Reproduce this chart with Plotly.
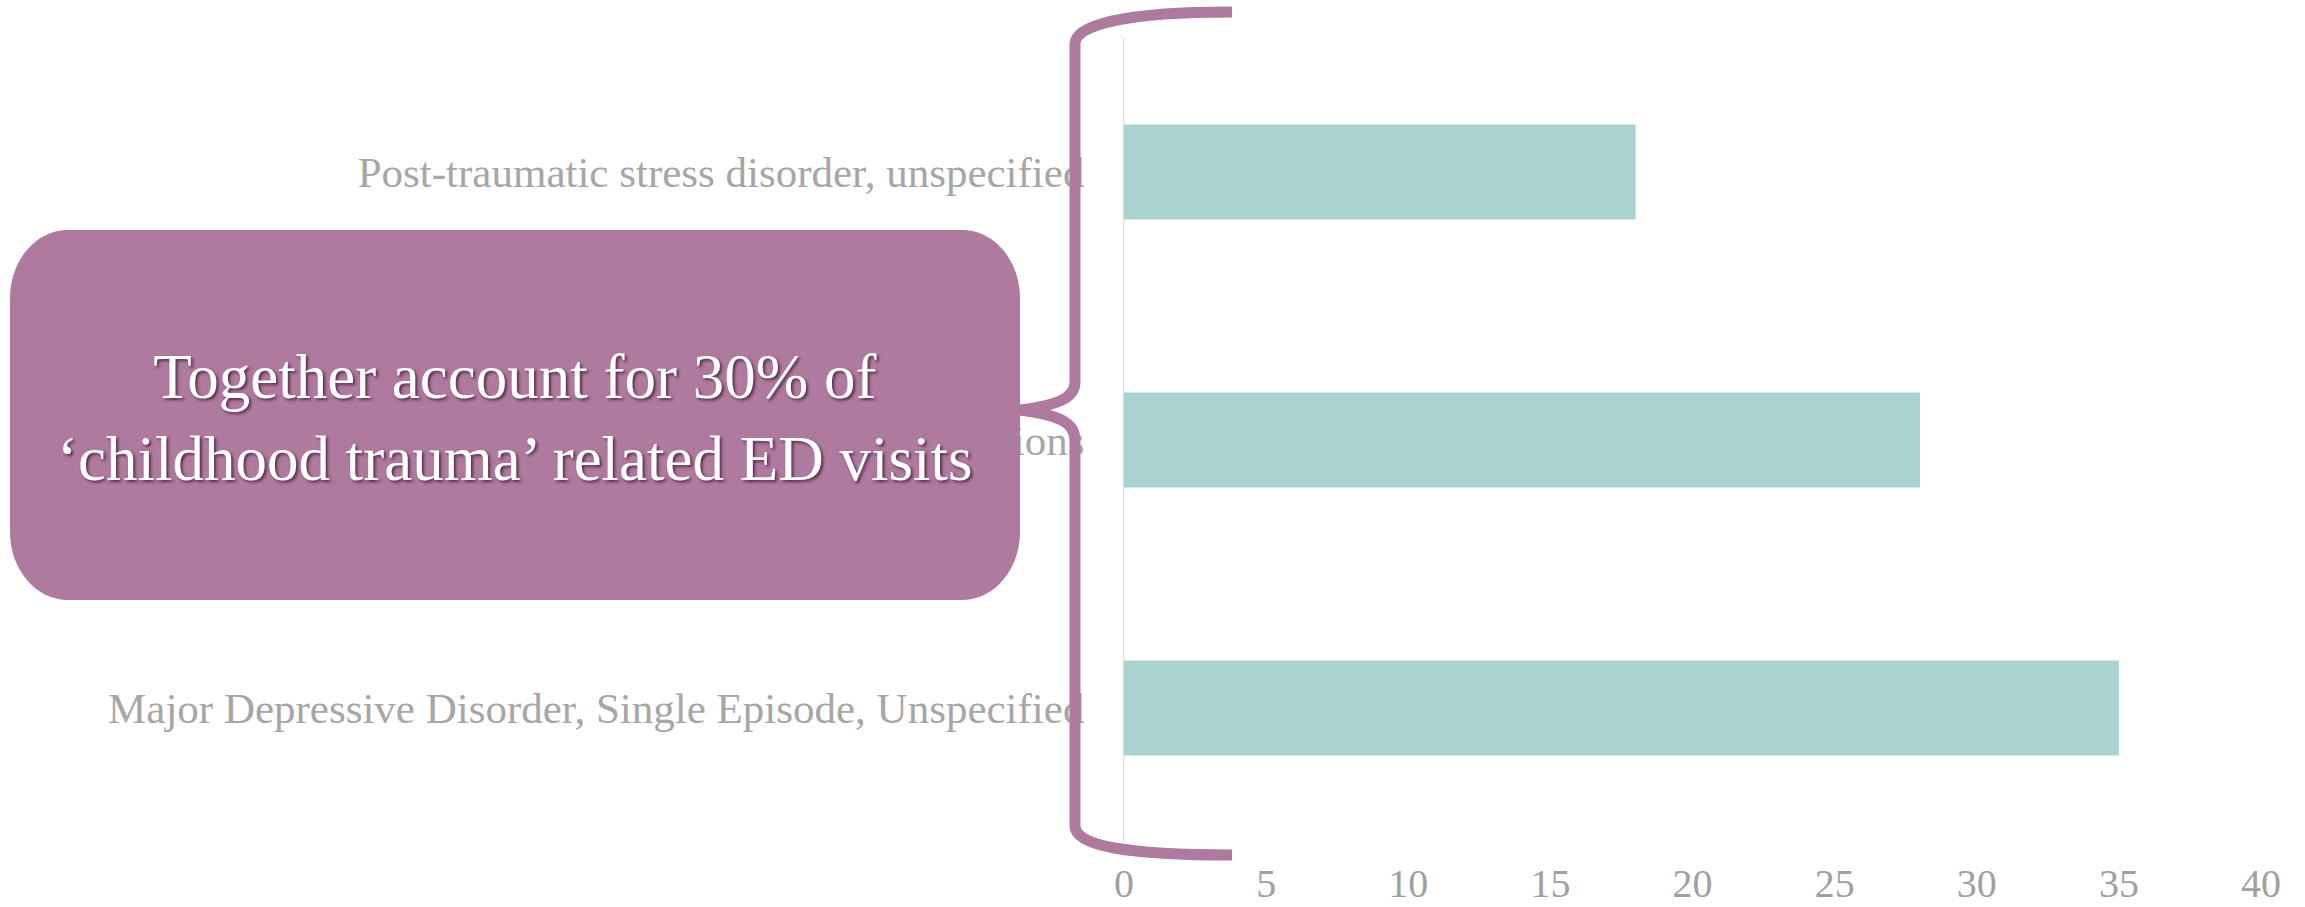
import plotly.graph_objects as go

# Diagnoses (top to bottom) and their counts
categories = [
    "Post-traumatic stress disorder, unspecified",
    "Adjustment disorder with mixed disturbance of emotions",
    "Major Depressive Disorder, Single Episode, Unspecified",
]
counts = [18, 28, 35]
x_ticks = [0, 5, 10, 15, 20, 25, 30, 35, 40]
callout_text = ["Together account for 30% of", "‘childhood trauma’ related ED visits"]

W, H = 2305, 907
M_L, M_R, M_T, M_B = 1124, 44, 38, 65
PW, PH = W - M_L - M_R, H - M_T - M_B

BAR = "#AAD3CF"
PURPLE = "#AE7A9E"
GREY = "#A6A6A6"
FONT = "Liberation Serif, Times New Roman, serif"


def px(x):
    return (x - M_L) / PW


def py(y):
    return (H - M_B - y) / PH


def path(cmds):
    out = []
    for c in cmds:
        if isinstance(c, str):
            out.append(c)
        else:
            out.append(f"{px(c[0]):.5f},{py(c[1]):.5f}")
    return " ".join(out)


fig = go.Figure(
    go.Bar(
        x=counts,
        y=categories,
        orientation="h",
        marker=dict(color=BAR, line=dict(width=0)),
        width=0.355,
        hoverinfo="skip",
    )
)

# curly brace grouping the three bars
brace = path([
    "M", (1232, 12),
    "C", (1128, 12), (1075, 24), (1075, 44),
    "L", (1075, 382),
    "C", (1075, 398), (1058, 405), (1020, 410),
    "C", (1058, 415), (1075, 422), (1075, 440),
    "L", (1075, 826),
    "C", (1075, 846), (1128, 855), (1232, 855),
])

# rounded callout box
x0, x1, y0, y1, rx, ry = 10, 1020, 230, 600, 58, 68
k = 0.5523
box = path([
    "M", (x0 + rx, y0),
    "L", (x1 - rx, y0),
    "C", (x1 - rx + k * rx, y0), (x1, y0 + ry - k * ry), (x1, y0 + ry),
    "L", (x1, y1 - ry),
    "C", (x1, y1 - ry + k * ry), (x1 - rx + k * rx, y1), (x1 - rx, y1),
    "L", (x0 + rx, y1),
    "C", (x0 + rx - k * rx, y1), (x0, y1 - ry + k * ry), (x0, y1 - ry),
    "L", (x0, y0 + ry),
    "C", (x0, y0 + ry - k * ry), (x0 + rx - k * rx, y0), (x0 + rx, y0),
    "Z",
])

fig.update_layout(
    width=W,
    height=H,
    margin=dict(l=M_L, r=M_R, t=M_T, b=M_B, pad=0, autoexpand=False),
    paper_bgcolor="white",
    plot_bgcolor="white",
    showlegend=False,
    font=dict(family=FONT, color=GREY),
    xaxis=dict(
        range=[0, 40],
        tickvals=x_ticks,
        ticktext=[str(v) for v in x_ticks],
        showgrid=False,
        zeroline=False,
        showline=False,
        ticks="",
        automargin=False,
        tickfont=dict(family=FONT, size=40, color="#A0A0A0"),
        ticklabelstandoff=14,
    ),
    yaxis=dict(
        categoryorder="array",
        categoryarray=categories[::-1],
        showgrid=False,
        zeroline=False,
        showline=True,
        linecolor="#D9D9D9",
        linewidth=1,
        ticks="",
        automargin=False,
        tickfont=dict(family=FONT, size=43, color=GREY),
        ticklabelstandoff=30,
    ),
    shapes=[
        dict(type="path", path=box, xref="paper", yref="paper",
             fillcolor=PURPLE, line=dict(width=0), layer="above"),
        dict(type="path", path=brace, xref="paper", yref="paper",
             fillcolor="rgba(0,0,0,0)", line=dict(color=PURPLE, width=11),
             layer="above"),
    ],
    annotations=[
        dict(
            x=px(515), y=py(418), xref="paper", yref="paper",
            text="<br>".join(callout_text),
            showarrow=False, xanchor="center", yanchor="middle", align="center",
            font=dict(family=FONT, size=63, color="white",
                      shadow="2px 2px 3px rgba(60,20,50,0.75)"),
        )
    ],
)

fig.write_html("out.html", config={"displayModeBar": False})
